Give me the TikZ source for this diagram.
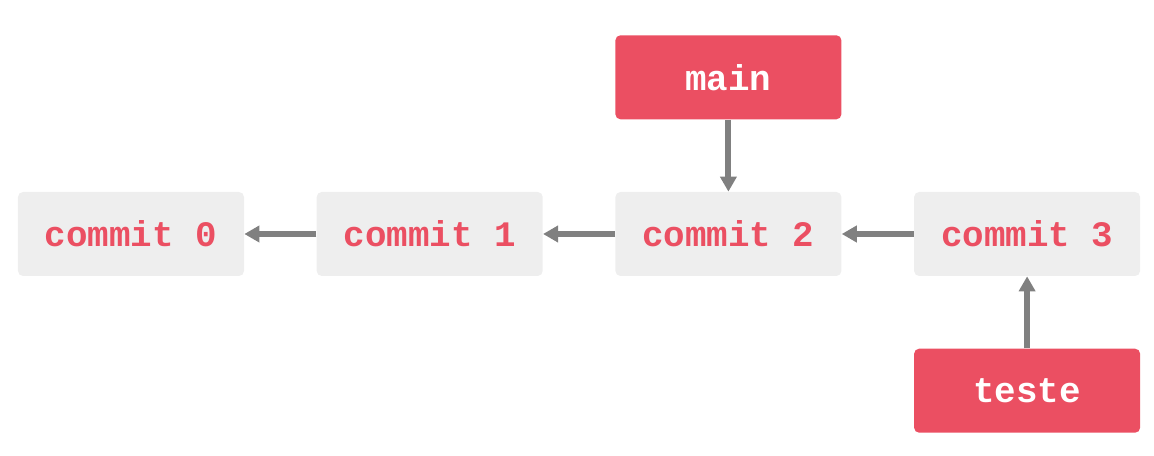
\documentclass[tikz,border=0pt]{standalone}
\usepackage{fontspec}
\setmonofont{Liberation Mono}
\usetikzlibrary{positioning,arrows.meta}
\definecolor{gitred}{HTML}{EB4F62}
\definecolor{gitgrey}{HTML}{EEEEEE}
\definecolor{arrowgrey}{HTML}{808080}
\begin{document}
\begin{tikzpicture}[
        node distance=1.44cm,
        commit/.style={fill=gitgrey,rounded corners=0.1cm,minimum width=4.52cm,minimum height=1.68cm,
            text=gitred,font=\fontsize{20.4}{24}\selectfont\ttfamily\bfseries},
        branch/.style={commit,fill=gitred,text=white},
        link/.style={arrowgrey,line width=0.12cm,-{Triangle[length=0.3cm,width=0.32cm]}}
    ]
        \useasboundingbox (0,0) rectangle (23.08,9.12);
        \node[commit] (c0) at (2.62,4.44) {commit 0};
        \node[commit,right=of c0] (c1) {commit 1};
        \node[commit,right=of c1] (c2) {commit 2};
        \node[commit,right=of c2] (c3) {commit 3};
        \node[branch,above=of c2] (main) {main};
        \node[branch,below=of c3] (teste) {teste};
        \draw[link] (c1) -- (c0);
        \draw[link] (c2) -- (c1);
        \draw[link] (c3) -- (c2);
        \draw[link] (main) -- (c2);
        \draw[link] (teste) -- (c3);
    \end{tikzpicture}
\end{document}
